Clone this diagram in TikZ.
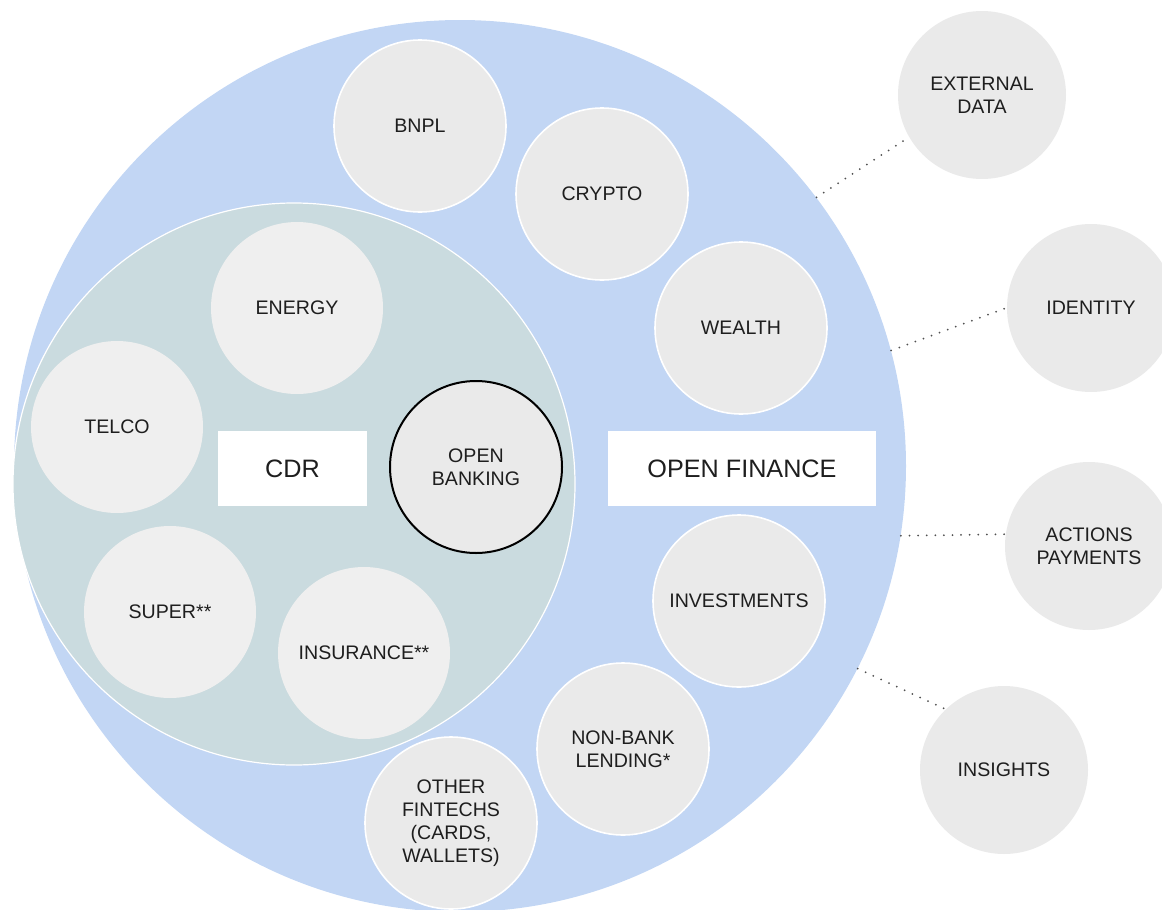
\documentclass[tikz,border=0pt]{standalone}
\usepackage{fontspec}
\setmainfont{Liberation Sans}
\usepackage{xcolor}
\usepackage{tikz}
\usetikzlibrary{positioning}

\definecolor{ofblue}{RGB}{194,214,244}
\definecolor{cdrgreen}{RGB}{202,219,223}
\definecolor{bubblegrey}{RGB}{234,234,234}
\definecolor{cdrgrey}{RGB}{239,239,239}
\definecolor{inkgrey}{RGB}{30,30,30}
\definecolor{dotgrey}{RGB}{80,80,80}

\begin{document}
\begin{tikzpicture}[x=0.5pt,y=0.5pt,yscale=-1,xscale=1,
  bubble/.style={circle, draw=white, line width=0.8pt, fill=bubblegrey, minimum size=86pt, inner sep=0pt, align=center, text=inkgrey, font=\fontsize{9.8}{11.6}\selectfont},
  cdrbubble/.style={bubble, draw=none, fill=cdrgrey},
  outer/.style={bubble, draw=none, minimum size=84pt},
  label box/.style={rectangle, fill=white, inner sep=0pt, text=inkgrey, font=\fontsize{12.6}{14}\selectfont},
  link/.style={dotgrey, line width=1pt, line cap=round, dash pattern=on 0pt off 4.3pt}]
\clip (0,0) rectangle (1162,910);

%Shape: Circle [open finance]
\node [circle, fill=ofblue, minimum size=446pt, inner sep=0pt] (ofzone) at (460,466) {};
%Shape: Circle [cdr]
\node [circle, draw=white, line width=0.6pt, fill=cdrgreen, minimum size=281pt, inner sep=0pt] (cdrzone) at (294,484) {};

%Shape: Circle [cdr sectors]
\node [cdrbubble] (energy) at (297,308) {ENERGY};
\node [cdrbubble] (telco) at (117,427) {TELCO};
\node [cdrbubble] (super) at (170,612) {SUPER**};
\node [cdrbubble] (insurance) at (364,653) {INSURANCE**};
\node [bubble, draw=black, line width=1pt] (banking) at (476,467) {OPEN\\BANKING};

%Shape: Circle [open finance sectors]
\node [bubble] (bnpl) at (420,126) {BNPL};
\node [bubble] (crypto) at (602,194) {CRYPTO};
\node [bubble] (wealth) at (741,328) {WEALTH};
\node [bubble] (investments) at (739,601) {INVESTMENTS};
\node [bubble] (lending) at (623,749) {NON-BANK\\LENDING*};
\node [bubble] (fintechs) at (451,823) {OTHER\\FINTECHS\\(CARDS,\\WALLETS)};

% Text Node
\node [label box, minimum width=74.5pt, minimum height=37.5pt] (cdr) at (292.5,468.5) {CDR};
% Text Node
\node [label box, minimum width=134pt, minimum height=37.5pt] (openfin) at (742,468.5) {OPEN FINANCE};

%Shape: Circle [outside]
\node [outer] (external) at (982,95) {EXTERNAL\\DATA};
\node [outer] (identity) at (1091,308) {IDENTITY};
\node [outer] (actions) at (1089,546) {ACTIONS\\PAYMENTS};
\node [outer] (insights) at (1004,770) {INSIGHTS};

%Straight Lines [dotted]
\draw [link] (ofzone.37) -- (external.210);
\draw [link] (ofzone.15) -- (identity.west);
\draw [link] (ofzone.-9) -- (actions.172);
\draw [link] (ofzone.-27) -- (insights.134);

\end{tikzpicture}
\end{document}
